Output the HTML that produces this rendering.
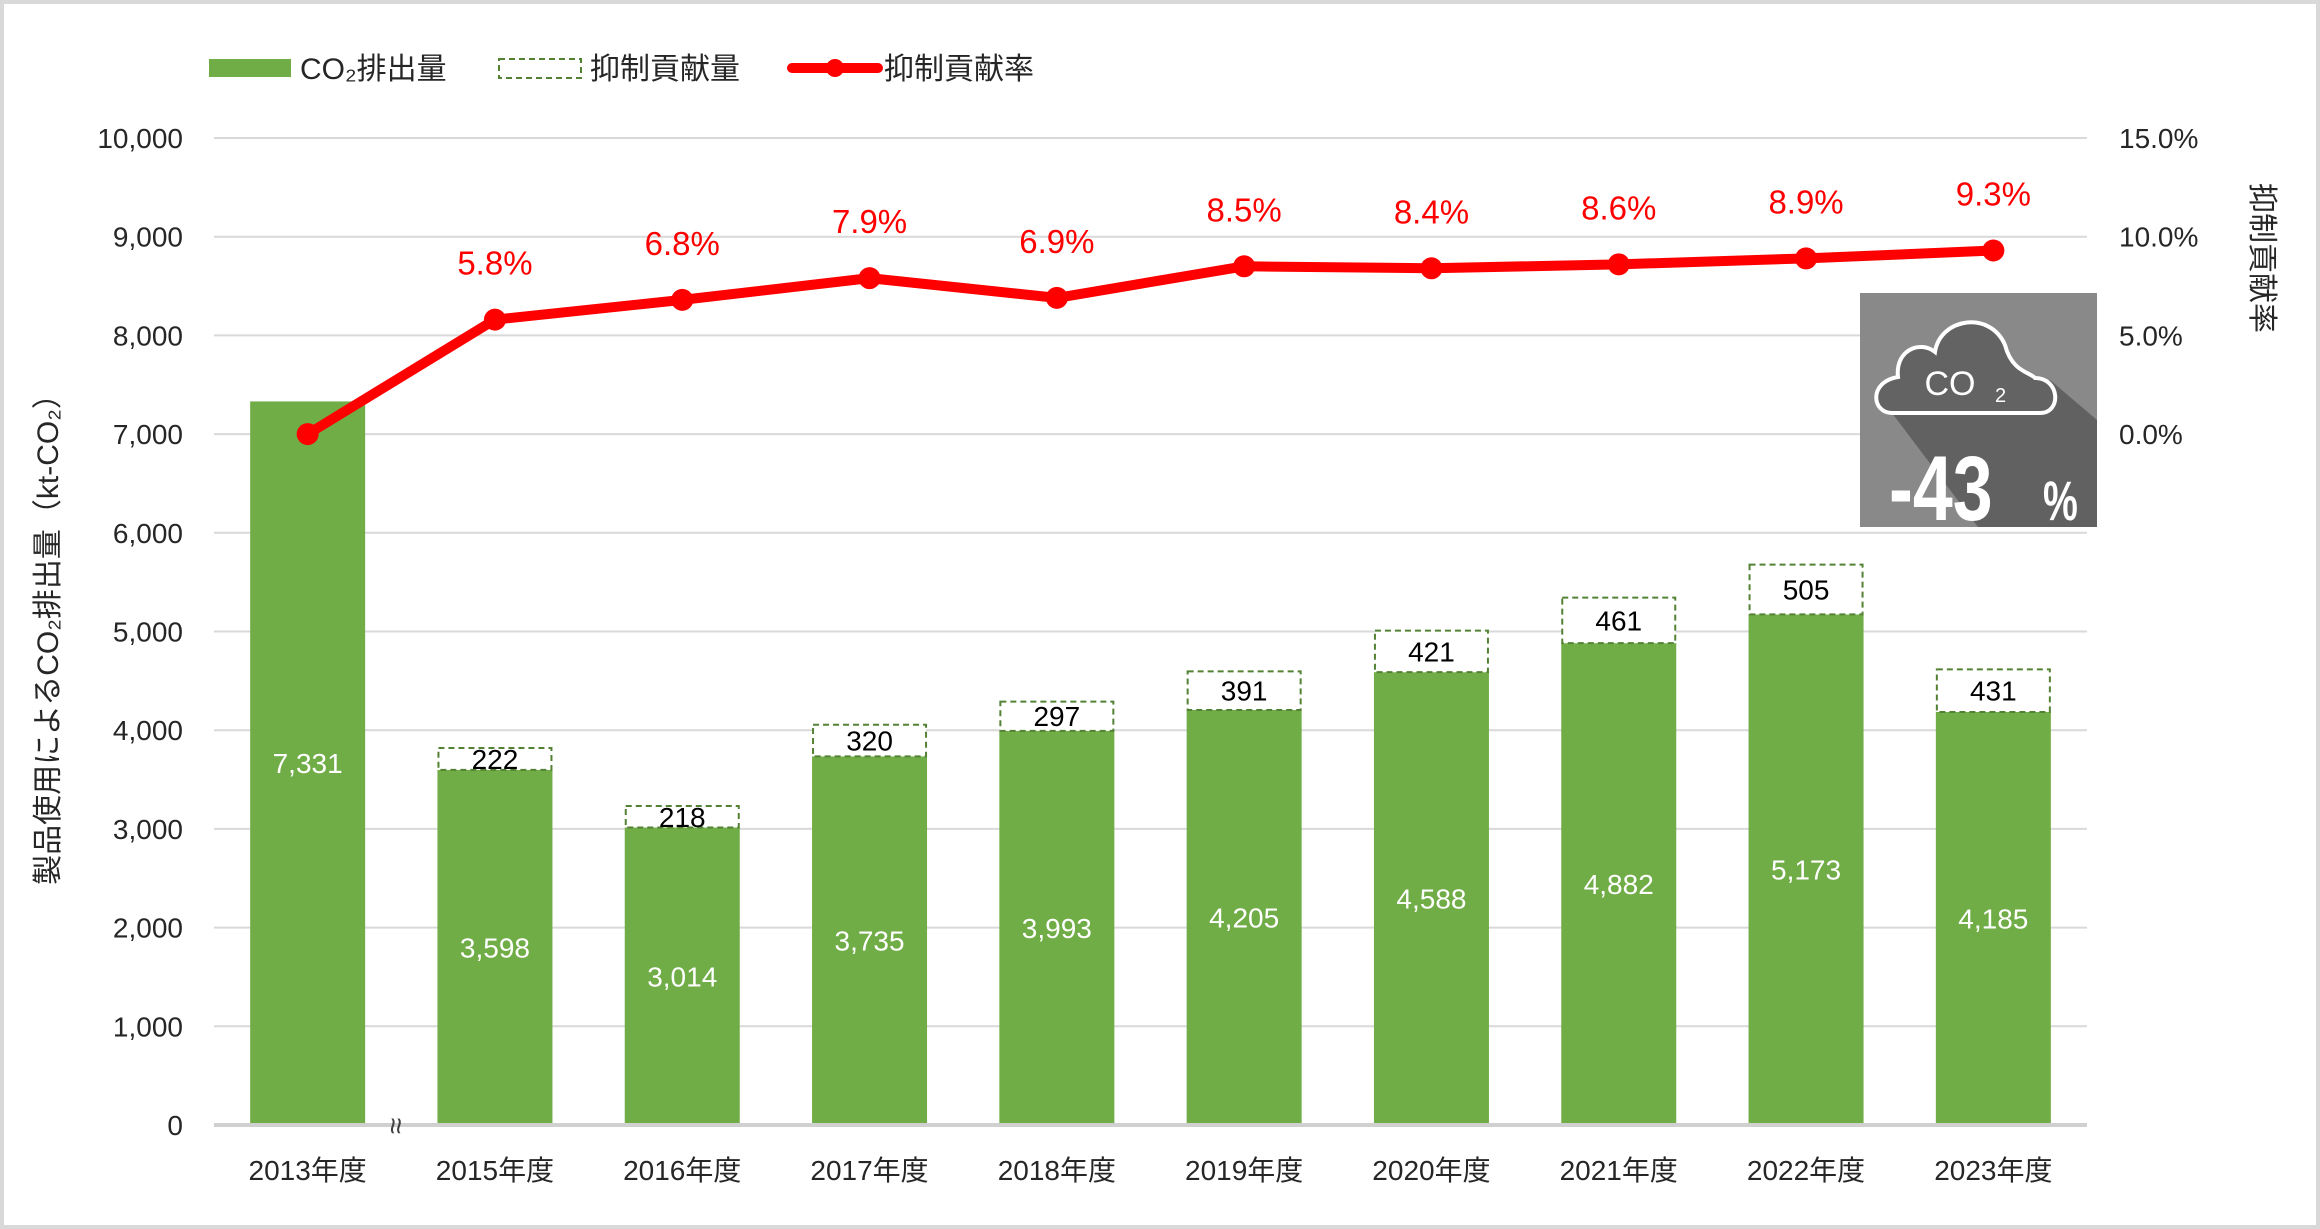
<!DOCTYPE html>
<html><head><meta charset="utf-8">
<style>
html,body{margin:0;padding:0;background:#fff;}
body{width:2320px;height:1229px;overflow:hidden;position:relative;font-family:"Liberation Sans","Noto Sans CJK JP",sans-serif;}
#frame{position:absolute;left:0;top:0;width:2312px;height:1221px;border:4px solid #d9d9d9;}
svg text{font-family:"Liberation Sans","Noto Sans CJK JP",sans-serif;}
</style></head>
<body>
<div id="frame"></div>
<svg id="chart" width="2320" height="1229" style="position:absolute;left:0;top:0"></svg>
<script>
const categories=["2013年度","2015年度","2016年度","2017年度","2018年度","2019年度","2020年度","2021年度","2022年度","2023年度"];
const co2Values=[7331,3598,3014,3735,3993,4205,4588,4882,5173,4185];
const suppressValues=[null,222,218,320,297,391,421,461,505,431];
const rateValues=[0,5.8,6.8,7.9,6.9,8.5,8.4,8.6,8.9,9.3];
const rateLabels=[null,"5.8%","6.8%","7.9%","6.9%","8.5%","8.4%","8.6%","8.9%","9.3%"];
const leftTicks=[0,1000,2000,3000,4000,5000,6000,7000,8000,9000,10000];
const rightTicks=[0,5,10,15];

const NS="http://www.w3.org/2000/svg";
const svg=document.getElementById('chart');
const X0=214,X1=2087,Y0=1125,Y10k=138;
const band=(X1-X0)/categories.length;
const barW=115;
function xC(i){return X0+band*(i+0.5);}
function yL(v){return Y0-(v/10000)*(Y0-Y10k);}
function yR(p){return yL(7000)-(p/15)*(yL(7000)-Y10k);}
function mk(tag,attrs,txt){const e=document.createElementNS(NS,tag);for(const k in attrs)e.setAttribute(k,attrs[k]);if(txt!=null)e.textContent=txt;svg.appendChild(e);return e;}
function fmt(v){return v.toLocaleString('en-US');}

// gridlines & left ticks
leftTicks.forEach(t=>{
  const g=mk('line',{x1:X0,x2:X1,y1:yL(t),y2:yL(t),stroke:t===0?'#d0d0d0':'#d9d9d9','stroke-width':t===0?4:2});
  
  
  const l=mk('text',{x:183,y:yL(t)+10,'text-anchor':'end','font-size':28,fill:'#262626'},fmt(t));
  
  
});
rightTicks.forEach(t=>{
  const l=mk('text',{x:2119,y:yR(t)+10,'font-size':28,fill:'#262626'},t.toFixed(1)+'%');
  
  
});

// bars
categories.forEach((c,i)=>{
  const cx=xC(i),v=co2Values[i];
  const b=mk('rect',{x:cx-barW/2,y:yL(v),width:barW,height:Y0-2-yL(v),fill:'#70ad47'});
  
  
  const s=suppressValues[i];
  if(s!=null){
    const d=mk('rect',{x:cx-barW/2+1,y:yL(v+s),width:barW-2,height:yL(v)-yL(v+s),fill:'#fff',stroke:'#548235','stroke-width':2,'stroke-dasharray':'6,4'});
    
    
    const dl=mk('text',{x:cx,y:(yL(v)+yL(v+s))/2+10,'text-anchor':'middle','font-size':28,fill:'#000'},fmt(s));
    
    
  }
  const vl=mk('text',{x:cx,y:(yL(v)+Y0)/2+10,'text-anchor':'middle','font-size':28,fill:'#fff'},fmt(v));
  
  
  const xl=mk('text',{x:cx,y:1180,'text-anchor':'middle','font-size':28,fill:'#262626'},c);
  
  
});

// break mark
const br=mk('text',{x:396,y:1136,'text-anchor':'middle','font-size':30,fill:'#404040'},'≈');


br.setAttribute('transform','rotate(90 396 1126)');

// line
const pts=rateValues.map((p,i)=>xC(i)+','+yR(p)).join(' ');
const ln=mk('polyline',{points:pts,fill:'none',stroke:'#ff0000','stroke-width':10,'stroke-linejoin':'round'});


rateValues.forEach((p,i)=>{
  const c=mk('circle',{cx:xC(i),cy:yR(p),r:11,fill:'#ff0000'});
  
  
  if(rateLabels[i]){
    const t=mk('text',{x:xC(i),y:yR(p)-45,'text-anchor':'middle','font-size':33,fill:'#ff0000'},rateLabels[i]);
    
    
  }
});

// axis titles
const lt=mk('text',{x:0,y:0,'text-anchor':'middle','font-size':30,fill:'#262626',transform:'translate(58 632) rotate(-90)'},'製品使用によるCO₂排出量（kt-CO₂）');


const rt=mk('text',{x:0,y:0,'text-anchor':'middle','font-size':30,fill:'#262626',transform:'translate(2252 258) rotate(90)'},'抑制貢献率');



// legend
const g1=mk('rect',{x:209,y:59,width:82,height:18,fill:'#70ad47'});


const t1=mk('text',{x:300,y:79,'font-size':30,fill:'#262626'},'CO₂排出量');


const g2=mk('rect',{x:499,y:59,width:82,height:19,fill:'#fff',stroke:'#548235','stroke-width':2,'stroke-dasharray':'6,4'});


const t2=mk('text',{x:590,y:79,'font-size':30,fill:'#262626'},'抑制貢献量');


const g3=mk('line',{x1:792,x2:878,y1:68,y2:68,stroke:'#ff0000','stroke-width':10,'stroke-linecap':'round'});


const g3c=mk('circle',{cx:835,cy:68,r:9,fill:'#ff0000'});


const t3=mk('text',{x:884,y:79,'font-size':30,fill:'#262626'},'抑制貢献率');



// badge
const bg=mk('rect',{x:1860,y:293,width:237,height:234,fill:'#898989'});


const sh=mk('polygon',{points:'1892,413 2030,413 2050,380 2097,420 2097,527 1978,527',fill:'#616161'});


const cl=mk('path',{d:'M1892,413 C1872,413 1868,382 1898,377 C1895,350 1920,340 1935,352 C1940,318 1990,310 2005,345 C2012,372 2030,372 2035,378 C2060,378 2062,413 2040,413 Z',fill:'#636363',stroke:'#fff','stroke-width':4});


const ct=mk('text',{x:1950,y:395,'text-anchor':'middle','font-size':34,fill:'#fff'},'CO');


const ct2=mk('text',{x:1995,y:402,'font-size':20,fill:'#fff'},'2');


const pt=mk('text',{x:0,y:0,'font-size':92,'font-weight':'bold',fill:'#fff',transform:'translate(1889 520) scale(0.78 1)'},'-43');


const pc=mk('text',{x:0,y:0,'font-size':56,'font-weight':'bold',fill:'#fff',transform:'translate(2043 520) scale(0.7 1)'},'%');


</script>
</body></html>
